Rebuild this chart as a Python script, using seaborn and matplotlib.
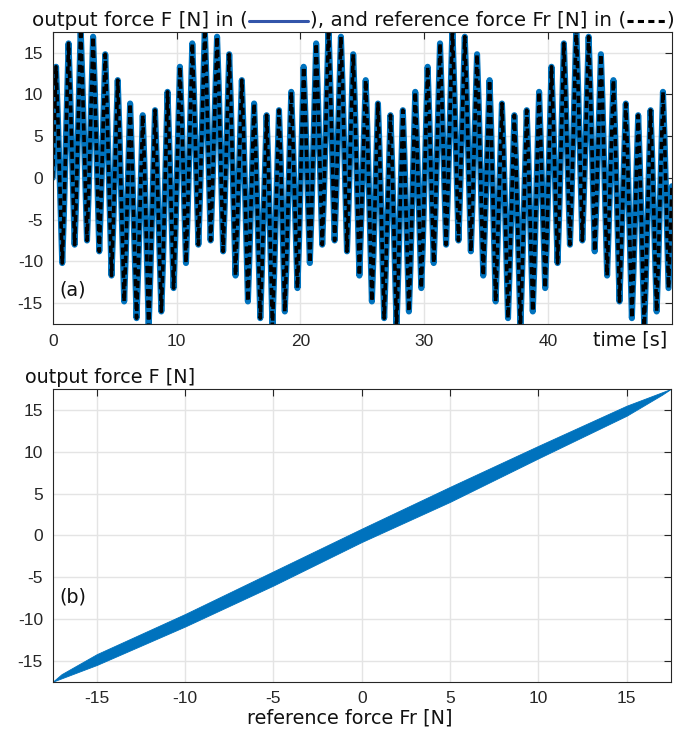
import matplotlib
matplotlib.use("Agg")
import matplotlib.pyplot as plt
from matplotlib.lines import Line2D
import pandas as pd
import seaborn as sns

# reference force Fr [N] over time [s] (a) peak by peak
# (peak, shoulder after peak, trough, shoulder after trough for every cycle)
t_00_10 = [0.00, 0.27, 0.41, 0.77, 0.90, 1.28, 1.41, 1.77, 1.90, 2.26, 2.39, 2.77, 2.90,
           3.26, 3.39, 3.76, 3.89, 4.24, 4.37, 4.75, 4.88, 5.25, 5.38, 5.77, 5.90,
           6.25, 6.38, 6.77, 6.90, 7.27, 7.40, 7.75, 7.88, 8.26, 8.39, 8.77, 8.90,
           9.27, 9.40, 9.76, 9.89]
fr_00_10 = [0.0, 13.3, 7.6, -10.2, -4.6, 16.1, 10.4, -8.0, -2.5, 17.9, 11.9, -7.5, -2.0,
            16.9, 11.2, -8.8, -3.2, 14.8, 9.1, -11.7, -6.1, 11.7, 6.0, -14.8, -9.2,
            8.9, 3.3, -16.8, -11.2, 7.5, 2.0, -17.9, -12.0, 8.1, 2.6, -16.0, -10.4,
            10.3, 4.7, -13.2, -7.6]

t_10_20 = [10.27, 10.41, 10.76, 10.89, 11.27, 11.40, 11.76, 11.89, 12.28, 12.41, 12.75, 12.88,
           13.27, 13.40, 13.76, 13.89, 14.25, 14.38, 14.76, 14.89, 15.27, 15.40, 15.76, 15.89,
           16.26, 16.39, 16.76, 16.89, 17.27, 17.40, 17.74, 17.87, 18.27, 18.40, 18.74, 18.87,
           19.26, 19.39, 19.76, 19.89]
fr_10_20 = [13.3, 7.6, -10.2, -4.6, 16.1, 10.4, -8.0, -2.5, 17.9, 11.9, -7.5, -2.0,
            16.9, 11.2, -8.8, -3.2, 14.8, 9.1, -11.7, -6.1, 11.7, 6.0, -14.8, -9.2,
            8.9, 3.3, -16.8, -11.2, 7.5, 2.0, -17.9, -12.0, 8.1, 2.6, -16.0, -10.4,
            10.3, 4.7, -13.2, -7.6]

t_20_30 = [20.26, 20.40, 20.76, 20.89, 21.27, 21.40, 21.76, 21.89, 22.27, 22.40, 22.76, 22.89,
           23.27, 23.40, 23.76, 23.89, 24.26, 24.39, 24.76, 24.89, 25.27, 25.40, 25.77, 25.90,
           26.26, 26.39, 26.76, 26.89, 27.27, 27.40, 27.76, 27.89, 28.27, 28.40, 28.76, 28.89,
           29.27, 29.40, 29.76, 29.89]
fr_20_30 = [13.3, 7.6, -10.2, -4.6, 16.1, 10.4, -8.0, -2.5, 17.9, 11.9, -7.5, -2.0,
            16.9, 11.2, -8.8, -3.2, 14.8, 9.1, -11.7, -6.1, 11.7, 6.0, -14.8, -9.2,
            8.9, 3.3, -16.8, -11.2, 7.5, 2.0, -17.9, -12.0, 8.1, 2.6, -16.0, -10.4,
            10.3, 4.7, -13.2, -7.6]

t_30_40 = [30.27, 30.40, 30.76, 30.89, 31.27, 31.40, 31.76, 31.89, 32.27, 32.40, 32.76, 32.89,
           33.27, 33.40, 33.76, 33.89, 34.26, 34.39, 34.76, 34.89, 35.27, 35.40, 35.76, 35.89,
           36.27, 36.40, 36.76, 36.89, 37.27, 37.40, 37.76, 37.89, 38.27, 38.40, 38.76, 38.89,
           39.27, 39.40, 39.76, 39.89]
fr_30_40 = [13.3, 7.6, -10.2, -4.6, 16.1, 10.4, -8.0, -2.5, 17.9, 11.9, -7.5, -2.0,
            16.9, 11.2, -8.8, -3.2, 14.8, 9.1, -11.7, -6.1, 11.7, 6.0, -14.8, -9.2,
            8.9, 3.3, -16.8, -11.2, 7.5, 2.0, -17.9, -12.0, 8.1, 2.6, -16.0, -10.4,
            10.3, 4.7, -13.2, -7.6]

t_40_50 = [40.27, 40.40, 40.76, 40.89, 41.27, 41.40, 41.76, 41.89, 42.27, 42.40, 42.76, 42.89,
           43.27, 43.40, 43.76, 43.89, 44.26, 44.39, 44.76, 44.89, 45.27, 45.40, 45.76, 45.89,
           46.27, 46.40, 46.76, 46.89, 47.27, 47.40, 47.76, 47.89, 48.27, 48.40, 48.76, 48.89,
           49.27, 49.40, 49.72, 49.85, 50.00]
fr_40_50 = [13.3, 7.6, -10.2, -4.6, 16.1, 10.4, -8.0, -2.5, 17.9, 11.9, -7.5, -2.0,
            16.9, 11.2, -8.8, -3.2, 14.8, 9.1, -11.7, -6.1, 11.7, 6.0, -14.8, -9.2,
            8.9, 3.3, -16.8, -11.2, 7.5, 2.0, -17.9, -12.0, 8.1, 2.6, -16.0, -10.4,
            10.3, 4.7, -13.2, -7.6, -1.0]

# panel (b): upper / lower edge of the F-vs-Fr band
band_fr = [-17.5, -17.0, -15.0, -10.0, -5.0, 0.0, 5.0, 10.0, 15.0, 17.0, 17.5]
band_upper = [-17.5, -16.6, -14.2, -9.4, -4.3, 0.8, 5.8, 10.7, 15.5, 17.1, 17.5]
band_lower = [-17.5, -17.1, -15.5, -10.9, -6.0, -0.8, 4.0, 9.2, 14.3, 16.8, 17.5]

time_ticks = [0, 10, 20, 30, 40]
force_ticks = [-15, -10, -5, 0, 5, 10, 15]

df = pd.DataFrame({
    "time": t_00_10 + t_10_20 + t_20_30 + t_30_40 + t_40_50,
    "Fr": fr_00_10 + fr_10_20 + fr_20_30 + fr_30_40 + fr_40_50,
})
# output force follows the reference so closely that both curves coincide here
df["F"] = df["Fr"]

sns.set_style("white")
plt.rcParams["font.family"] = ["Liberation Sans", "DejaVu Sans"]
plt.rcParams["axes.unicode_minus"] = False

W, H = 690, 733
fig = plt.figure(figsize=(W / 100, H / 100), dpi=100)


def fx(px):
    return px / W


def fy(py):
    return 1 - py / H


blue = "#0072BD"
lab_font = dict(family="DejaVu Sans", fontsize=13.8, color="#111111")

ax1 = fig.add_axes([fx(52.7), fy(324), fx(672) - fx(52.7), fy(31.7) - fy(324)])
ax2 = fig.add_axes([fx(52.7), fy(681.7), fx(670.7) - fx(52.7), fy(389) - fy(681.7)])

sns.lineplot(data=df, x="time", y="F", ax=ax1, color=blue, lw=4.4, estimator=None)
sns.lineplot(data=df, x="time", y="Fr", ax=ax1, color="black", lw=2.6,
             linestyle=(0, (2.0, 1.2)), estimator=None)
ax1.set_xlim(0, 50)
ax1.set_ylim(-17.5, 17.5)
ax1.set_xticks(time_ticks)

ax2.fill_between(band_fr, band_lower, band_upper, color=blue, lw=0.6)
ax2.set_xlim(-17.5, 17.5)
ax2.set_ylim(-17.5, 17.5)
ax2.set_xticks(force_ticks)

for ax in (ax1, ax2):
    ax.set_yticks(force_ticks)
    ax.set_xlabel("")
    ax.set_ylabel("")
    ax.grid(True, color="#e4e4e4", lw=1.0)
    ax.set_axisbelow(True)
    ax.tick_params(direction="in", length=5, width=0.8, top=True, right=True,
                   color="#262626", labelcolor="#262626", labelsize=12.5, pad=7)
    for sp in ax.spines.values():
        sp.set_color("#262626")
        sp.set_linewidth(0.8)

fig.text(fx(59), fy(290), "(a)", va="center", **lab_font)
fig.text(fx(59), fy(597), "(b)", va="center", **lab_font)
fig.text(fx(667), fy(345), "time [s]", ha="right", va="baseline", **lab_font)
fig.text(fx(25), fy(383), "output force F [N]", va="baseline", **lab_font)
fig.text(fx(350), fy(724), "reference force Fr [N]", ha="center", va="baseline", **lab_font)

# header with inline line samples
fig.canvas.draw()
renderer = fig.canvas.get_renderer()
title_font = dict(lab_font, fontsize=14.3)
pieces = ["output force F [N] in (", "solid", "), and reference force Fr [N] in (", "dashed", ")"]
x = 32
base = 26
for piece in pieces:
    if piece == "solid":
        fig.add_artist(Line2D([fx(x + 1), fx(x + 60)], [fy(base - 5.5)] * 2, color="#3355aa", lw=2.2))
        x += 62
    elif piece == "dashed":
        fig.add_artist(Line2D([fx(x + 1), fx(x + 40)], [fy(base - 5.5)] * 2, color="black", lw=2.2,
                              linestyle=(0, (2.0, 1.4))))
        x += 41
    else:
        txt = fig.text(fx(x), fy(base), piece, va="baseline", **title_font)
        x = txt.get_window_extent(renderer).x1

fig.savefig("out.png", dpi=100)
